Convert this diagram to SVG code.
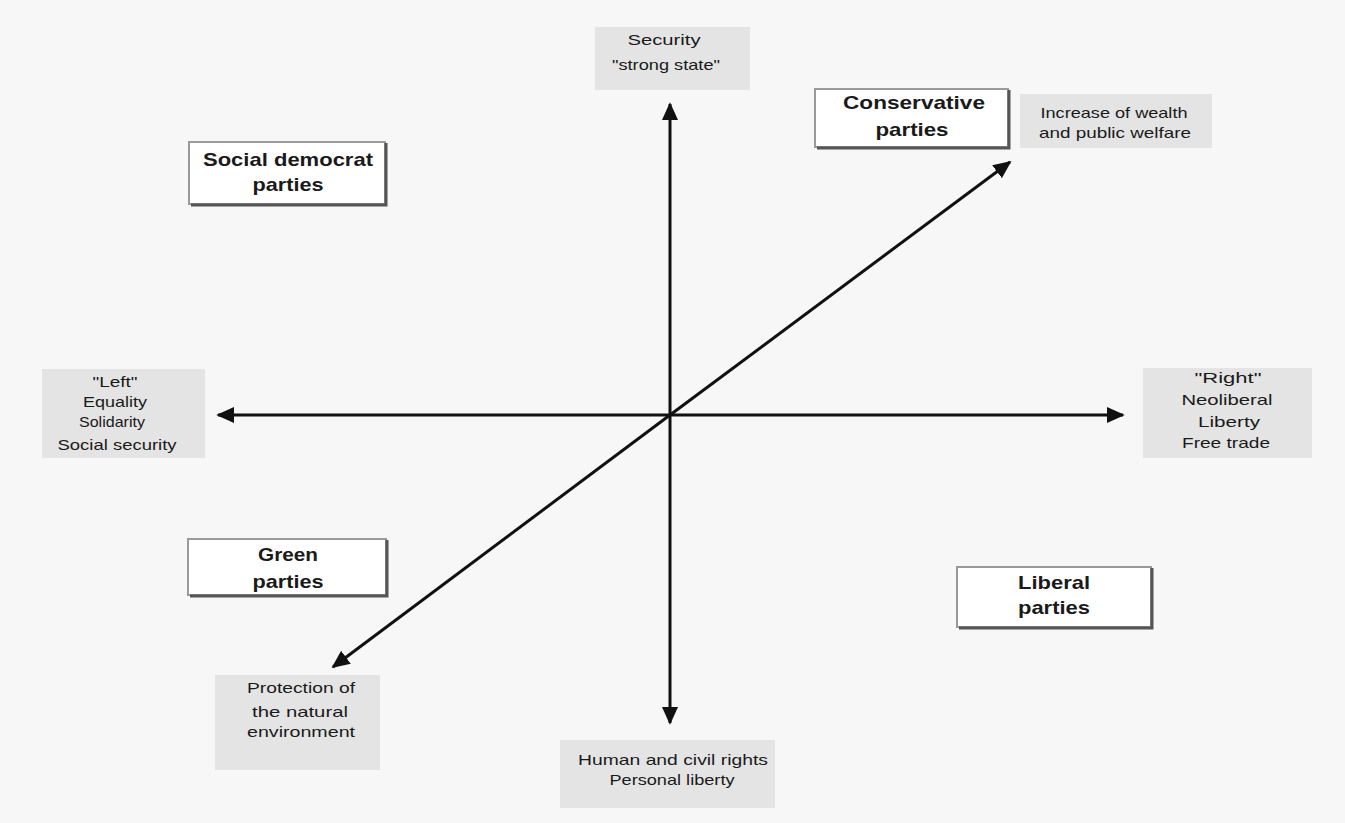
<svg xmlns="http://www.w3.org/2000/svg" width="1345" height="823" viewBox="0 0 1345 823">
<defs>
<marker id="ah" viewBox="0 0 10 10" refX="9" refY="5" markerWidth="6" markerHeight="6" orient="auto" markerUnits="strokeWidth">
<path d="M0,0.5 L10,5 L0,9.5 Z" fill="#111"/>
</marker>
</defs>
<style>
.lbl{fill:#e4e4e4}
.lt{font-family:"Liberation Sans",Arial,sans-serif;font-size:15px;fill:#1a1a1a;text-anchor:middle}
.nb{fill:#fff;stroke:#9a9a9a;stroke-width:2}
.ns{fill:none;stroke:#555;stroke-width:3}
.nt{font-family:"Liberation Sans",Arial,sans-serif;font-size:19px;font-weight:bold;fill:#1a1a1a;text-anchor:middle}
.ax{stroke:#111;stroke-width:3;fill:none;marker-end:url(#ah)}
</style>
<rect width="1345" height="823" fill="#f7f7f7"/>
<g id="connectors">
<line class="ax" x1="670" y1="415" x2="670" y2="104"/>
<line class="ax" x1="670" y1="415" x2="670" y2="723"/>
<line class="ax" x1="670" y1="415" x2="218" y2="415"/>
<line class="ax" x1="670" y1="415" x2="1123" y2="415"/>
<line class="ax" x1="670" y1="415" x2="1010" y2="162"/>
<line class="ax" x1="670" y1="415" x2="333" y2="667"/>
</g>
<g id="label-top">
<rect class="lbl" x="595" y="27" width="155" height="63"/>
<text class="lt" x="664" y="45" textLength="73" lengthAdjust="spacingAndGlyphs">Security</text>
<text class="lt" x="666" y="70" textLength="108" lengthAdjust="spacingAndGlyphs">"strong state"</text>
</g>
<g id="label-wealth">
<rect class="lbl" x="1020" y="94" width="192" height="54"/>
<text class="lt" x="1114" y="118" textLength="147" lengthAdjust="spacingAndGlyphs">Increase of wealth</text>
<text class="lt" x="1115" y="138" textLength="152" lengthAdjust="spacingAndGlyphs">and public welfare</text>
</g>
<g id="label-left">
<rect class="lbl" x="42" y="369" width="163" height="89"/>
<text class="lt" x="115" y="387" textLength="45" lengthAdjust="spacingAndGlyphs">"Left"</text>
<text class="lt" x="115" y="407" textLength="64" lengthAdjust="spacingAndGlyphs">Equality</text>
<text class="lt" x="112" y="427" textLength="66" lengthAdjust="spacingAndGlyphs">Solidarity</text>
<text class="lt" x="117" y="450" textLength="119" lengthAdjust="spacingAndGlyphs">Social security</text>
</g>
<g id="label-right">
<rect class="lbl" x="1143" y="368" width="169" height="90"/>
<text class="lt" x="1228" y="383" textLength="67" lengthAdjust="spacingAndGlyphs">"Right"</text>
<text class="lt" x="1227" y="405" textLength="91" lengthAdjust="spacingAndGlyphs">Neoliberal</text>
<text class="lt" x="1229" y="427" textLength="62" lengthAdjust="spacingAndGlyphs">Liberty</text>
<text class="lt" x="1226" y="448" textLength="88" lengthAdjust="spacingAndGlyphs">Free trade</text>
</g>
<g id="label-environment">
<rect class="lbl" x="215" y="675" width="165" height="95"/>
<text class="lt" x="301" y="693" textLength="108" lengthAdjust="spacingAndGlyphs">Protection of</text>
<text class="lt" x="300" y="717" textLength="96" lengthAdjust="spacingAndGlyphs">the natural</text>
<text class="lt" x="301" y="737" textLength="108" lengthAdjust="spacingAndGlyphs">environment</text>
</g>
<g id="label-bottom">
<rect class="lbl" x="560" y="740" width="215" height="68"/>
<text class="lt" x="673" y="765" textLength="190" lengthAdjust="spacingAndGlyphs">Human and civil rights</text>
<text class="lt" x="672" y="785" textLength="125" lengthAdjust="spacingAndGlyphs">Personal liberty</text>
</g>
<g id="node-conservative">
<rect class="nb" x="815" y="89" width="193" height="58"/>
<path class="ns" d="M817,148 H1009 V90"/>
<text class="nt" x="914" y="109" textLength="142" lengthAdjust="spacingAndGlyphs">Conservative</text>
<text class="nt" x="912" y="136" textLength="73" lengthAdjust="spacingAndGlyphs">parties</text>
</g>
<g id="node-socialdemocrat">
<rect class="nb" x="189" y="142" width="196" height="62"/>
<path class="ns" d="M191,205 H386 V143"/>
<text class="nt" x="288" y="166" textLength="170" lengthAdjust="spacingAndGlyphs">Social democrat</text>
<text class="nt" x="288" y="191" textLength="71" lengthAdjust="spacingAndGlyphs">parties</text>
</g>
<g id="node-green">
<rect class="nb" x="188" y="539" width="198" height="56"/>
<path class="ns" d="M190,596 H387 V540"/>
<text class="nt" x="288" y="561" textLength="60" lengthAdjust="spacingAndGlyphs">Green</text>
<text class="nt" x="288" y="588" textLength="71" lengthAdjust="spacingAndGlyphs">parties</text>
</g>
<g id="node-liberal">
<rect class="nb" x="957" y="567" width="194" height="60"/>
<path class="ns" d="M959,628 H1152 V568"/>
<text class="nt" x="1054" y="589" textLength="72" lengthAdjust="spacingAndGlyphs">Liberal</text>
<text class="nt" x="1054" y="614" textLength="72" lengthAdjust="spacingAndGlyphs">parties</text>
</g>
</svg>
